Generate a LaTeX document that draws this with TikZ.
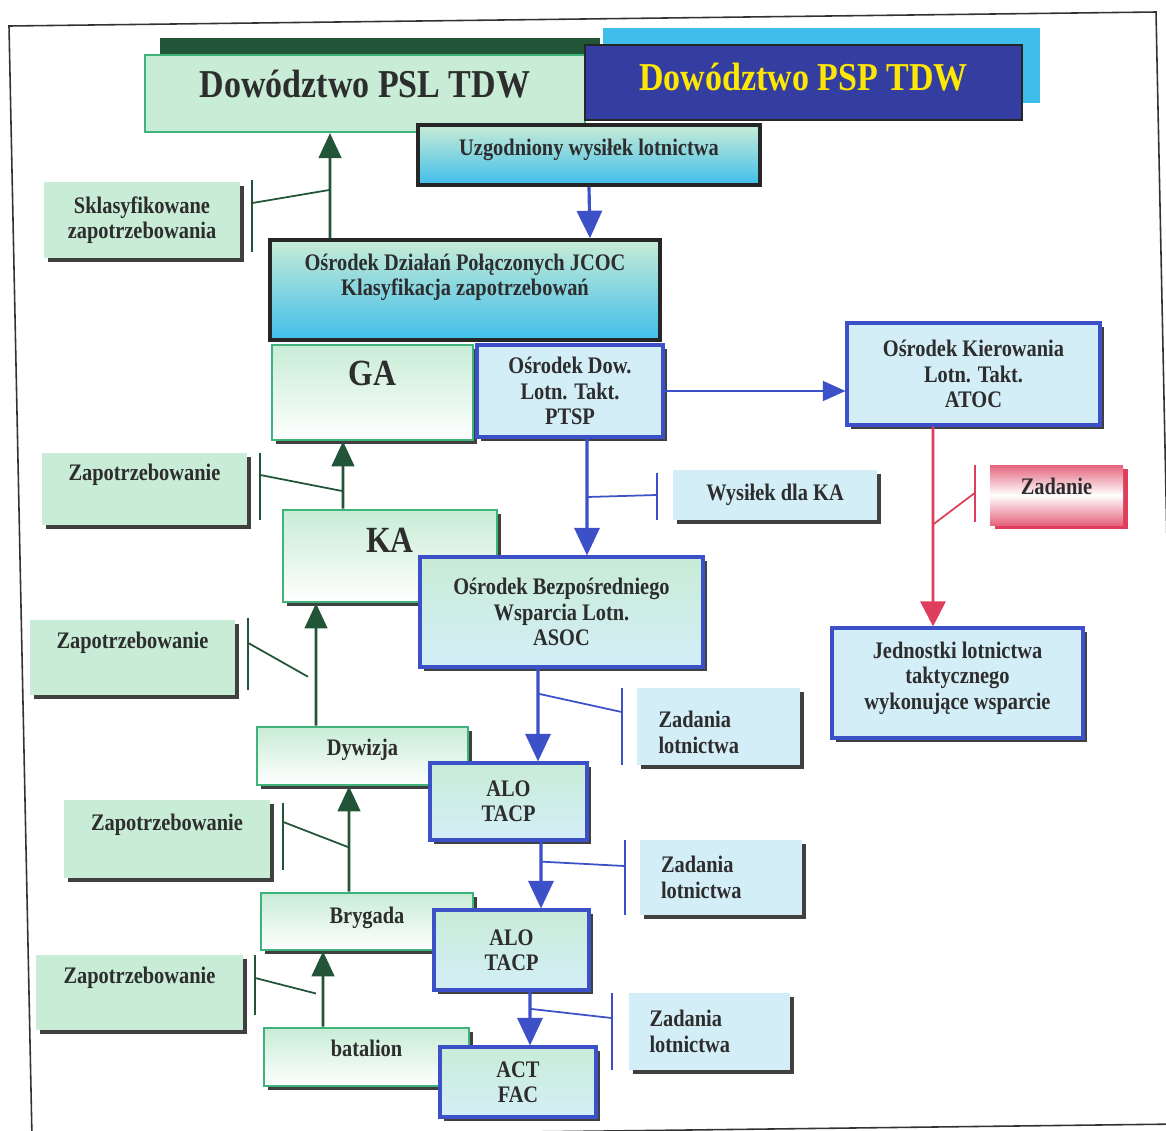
\documentclass[tikz,border=0pt]{standalone}
\usepackage{fontspec}
\setmainfont{Liberation Serif}[FakeStretch=0.86]
\usetikzlibrary{arrows.meta,shadows}

\definecolor{mint}{RGB}{200,236,214}
\definecolor{lgreen}{RGB}{62,180,122}
\definecolor{dkgreen}{RGB}{34,84,56}
\definecolor{lblue}{RGB}{60,80,200}
\definecolor{navy}{RGB}{52,62,160}
\definecolor{skyc}{RGB}{64,190,235}
\definecolor{lcyan}{RGB}{212,238,248}
\definecolor{ared}{RGB}{222,62,92}
\definecolor{ink}{RGB}{45,45,45}

\tikzset{
  txt/.style={font=\bfseries\fontsize{13.5}{14.5}\selectfont, text=ink, align=center},
  shad/.style={drop shadow={shadow xshift=2.5pt,shadow yshift=-2.5pt,fill=black!75,opacity=1}},
  greenbox/.style={txt, shad, draw=lgreen, line width=1.5pt, top color=mint, bottom color=white},
  bluebox/.style={txt, shad, draw=lblue, line width=1.8pt, fill=lcyan},
  alobox/.style={bluebox, top color=mint, bottom color=lcyan},
  blackbox/.style={txt, draw=black!85, line width=2pt, top color=mint, bottom color=skyc},
  note/.style={txt, shad, fill=mint},
  bluenote/.style={txt, shad, fill=lcyan},
  zadnote/.style={bluenote, text width=2.4cm, align=left},
  raised/.style={text depth=#1},
  bigtxt/.style={font=\bfseries\fontsize{21}{22}\selectfont},
  upline/.style={draw=dkgreen, line width=1.6pt, -{Triangle[length=0.5cm,width=0.45cm]}},
  downline/.style={draw=lblue, line width=1.8pt, -{Triangle[length=0.55cm,width=0.5cm]}},
  gbar/.style={draw=dkgreen, line width=1pt},
  bbar/.style={draw=lblue, line width=1pt},
}

\begin{document}
\begin{tikzpicture}[x=0.02cm,y=-0.02cm]
  \useasboundingbox (0,0) rectangle (1166,1130);
  % frame of the scanned page (slightly skewed)
  \begin{scope}
    \clip (0,0) rectangle (1166,1130);
    \draw[black!80,line width=0.9pt] (9,26) -- (1156,12) -- (1179,1124) -- (32,1138) -- cycle;
  \end{scope}

  % headquarters
  \node[txt, draw=lgreen, line width=1.2pt, fill=mint, minimum width=8.8cm, minimum height=1.54cm,
        font=\bfseries\fontsize{22.5}{24}\selectfont, raised=0.4cm,
        drop shadow={shadow xshift=0.3cm,shadow yshift=0.34cm,fill=dkgreen,opacity=1}] (psl) at (365,93.5) {Dowództwo PSL TDW};
  \node[txt, draw=black!85, line width=1.2pt, fill=navy, text=yellow!90!orange, minimum width=8.74cm, minimum height=1.5cm,
        font=\bfseries\fontsize{22.5}{24}\selectfont, raised=0.23cm,
        drop shadow={shadow xshift=0.36cm,shadow yshift=0.34cm,fill=skyc,opacity=1}] (psp) at (803.5,82.5) {Dowództwo PSP TDW};

  % requests (left)
  \node[note, minimum width=3.92cm, minimum height=1.52cm] (skl) at (142,220) {Sklasyfikowane\\zapotrzebowania};
  \node[note, minimum width=4.1cm, minimum height=1.44cm, raised=0.66cm] (zap1) at (144.5,489) {Zapotrzebowanie};
  \node[note, minimum width=4.1cm, minimum height=1.5cm, raised=0.68cm] (zap2) at (132.5,657.5) {Zapotrzebowanie};
  \node[note, minimum width=4.12cm, minimum height=1.56cm, raised=0.66cm] (zap3) at (167,839) {Zapotrzebowanie};
  \node[note, minimum width=4.14cm, minimum height=1.5cm, raised=0.68cm] (zap4) at (139.5,992.5) {Zapotrzebowanie};

  % land forces
  \node[greenbox, bigtxt, minimum width=4.02cm, minimum height=1.9cm, raised=0.76cm] (ga) at (372.5,392.5) {GA};
  \node[greenbox, bigtxt, minimum width=4.28cm, minimum height=1.84cm, raised=0.64cm] (ka) at (390,556) {KA};
  \node[greenbox, minimum width=4.22cm, minimum height=1.16cm, raised=0.34cm] (dyw) at (362.5,756) {Dywizja};
  \node[greenbox, minimum width=4.24cm, minimum height=1.14cm, raised=0.25cm] (bry) at (367,921.5) {Brygada};
  \node[greenbox, minimum width=4.1cm, minimum height=1.16cm, raised=0.36cm] (bat) at (366.5,1057) {batalion};

  % air force
  \node[blackbox, minimum width=6.84cm, minimum height=1.2cm, raised=0.3cm] (uzg) at (589,155) {Uzgodniony wysiłek lotnictwa};
  \node[blackbox, minimum width=7.8cm, minimum height=2cm, raised=0.62cm] (jcoc) at (465,290) {Ośrodek Działań Połączonych JCOC\\Klasyfikacja zapotrzebowań};
  \node[bluebox, minimum width=3.72cm, minimum height=1.84cm] (ptsp) at (570,391) {Ośrodek Dow.\\Lotn. Takt.\\PTSP};
  \node[bluebox, minimum width=5.06cm, minimum height=2.04cm] (atoc) at (973.5,374) {Ośrodek Kierowania\\Lotn. Takt.\\ATOC};
  \node[bluebox, minimum width=5.02cm, minimum height=2.2cm, raised=0.3cm] (jedn) at (957.5,683) {Jednostki lotnictwa\\taktycznego\\wykonujące wsparcie};
  \node[alobox, minimum width=5.66cm, minimum height=2.2cm] (asoc) at (561.5,612) {Ośrodek Bezpośredniego\\Wsparcia Lotn.\\ASOC};
  \node[alobox, minimum width=3.14cm, minimum height=1.54cm] (alo1) at (508.5,801.5) {ALO\\TACP};
  \node[alobox, minimum width=3.1cm, minimum height=1.6cm] (alo2) at (511.5,950) {ALO\\TACP};
  \node[alobox, minimum width=3.12cm, minimum height=1.4cm] (act) at (518,1082) {ACT\\FAC};

  % tasks (right)
  \node[bluenote, minimum width=4.08cm, minimum height=1cm] (wys) at (775,495) {Wysiłek dla KA};
  \node[zadnote, minimum width=3.26cm, minimum height=1.54cm, raised=0.28cm] (zad1) at (718.5,726.5) {Zadania\\lotnictwa};
  \node[zadnote, minimum width=3.24cm, minimum height=1.5cm] (zad2) at (721,877.5) {Zadania\\lotnictwa};
  \node[zadnote, minimum width=3.22cm, minimum height=1.54cm] (zad3) at (709.5,1031.5) {Zadania\\lotnictwa};
  \node[txt, minimum width=2.66cm, minimum height=1.2cm, top color=ared!80, bottom color=ared!80, middle color=white,
        drop shadow={shadow xshift=3pt,shadow yshift=-2pt,fill=ared,opacity=1}, raised=0.36cm] (zadanie) at (1056.5,495) {Zadanie};

  % requests going up
  \draw[upline] ([xshift=-2.7cm]jcoc.north) -- coordinate[pos=0.46] (m1) ([xshift=-0.7cm]psl.south);
  \draw[upline] ([xshift=-0.94cm]ka.north) -- coordinate[pos=0.26] (m2) ([xshift=-0.59cm]ga.south);
  \draw[upline] ([xshift=-0.93cm]dyw.north) -- coordinate[pos=0.4] (m3) ([xshift=-1.48cm]ka.south);
  \draw[upline] ([xshift=-0.36cm]bry.north) -- coordinate[pos=0.42] (m4) ([xshift=-0.27cm]dyw.south);
  \draw[upline] ([xshift=-0.87cm]bat.north) -- coordinate[pos=0.44] (m5) ([xshift=-0.88cm]bry.south);

  % tasks going down
  \draw[downline] (uzg.south) -- ([xshift=2.5cm]jcoc.north);
  \draw[downline] ([xshift=0.34cm]ptsp.south) -- coordinate[pos=0.5] (n1) ([xshift=0.51cm]asoc.north);
  \draw[downline] ([xshift=-0.47cm]asoc.south) -- coordinate[pos=0.27] (n2) ([xshift=0.59cm]alo1.north);
  \draw[downline] ([xshift=0.65cm]alo1.south) -- coordinate[pos=0.3] (n3) ([xshift=0.59cm]alo2.north);
  \draw[downline] ([xshift=0.37cm]alo2.south) -- coordinate[pos=0.32] (n4) ([xshift=0.24cm]act.north);
  \draw[draw=lblue, line width=0.8pt, -{Triangle[length=0.45cm,width=0.4cm]}] (ptsp.east) -- (ptsp.east -| atoc.west);
  \draw[draw=ared, line width=1.6pt, -{Triangle[length=0.5cm,width=0.5cm]}] ([xshift=-0.81cm]atoc.south) -- coordinate[pos=0.49] (r1) ([xshift=-0.49cm]jedn.north);

  % callouts
  \draw[gbar] ([xshift=0.24cm,yshift=0.04cm]skl.north east) -- ([xshift=0.24cm,yshift=0.12cm]skl.south east);
  \draw[gbar] (m1) -- ([xshift=0.24cm,yshift=0.34cm]skl.east);
  \draw[gbar] ([xshift=0.26cm]zap1.north east) -- ([xshift=0.26cm,yshift=0.1cm]zap1.south east);
  \draw[gbar] (m2) -- ([xshift=0.26cm,yshift=0.28cm]zap1.east);
  \draw[gbar] ([xshift=0.26cm,yshift=0.04cm]zap2.north east) -- ([xshift=0.26cm,yshift=0.1cm]zap2.south east);
  \draw[gbar] ([xshift=-0.16cm]m3) -- ([xshift=0.26cm,yshift=0.29cm]zap2.east);
  \draw[gbar] ([xshift=0.26cm,yshift=-0.06cm]zap3.north east) -- ([xshift=0.26cm,yshift=0.16cm]zap3.south east);
  \draw[gbar] (m4) -- ([xshift=0.26cm,yshift=0.34cm]zap3.east);
  \draw[gbar] ([xshift=0.24cm]zap4.north east) -- ([xshift=0.24cm,yshift=0.3cm]zap4.south east);
  \draw[gbar] ([xshift=-0.14cm]m5) -- ([xshift=0.24cm,yshift=0.29cm]zap4.east);

  \draw[bbar] ([xshift=-0.32cm,yshift=-0.06cm]wys.north west) -- ([xshift=-0.32cm]wys.south west);
  \draw[bbar] (n1) -- ([xshift=-0.32cm]wys.west);
  \draw[bbar] ([xshift=-0.3cm]zad1.north west) -- ([xshift=-0.3cm]zad1.south west);
  \draw[bbar] (n2) -- ([xshift=-0.3cm,yshift=0.29cm]zad1.west);
  \draw[bbar] ([xshift=-0.3cm]zad2.north west) -- ([xshift=-0.3cm]zad2.south west);
  \draw[bbar] (n3) -- ([xshift=-0.3cm,yshift=0.23cm]zad2.west);
  \draw[bbar] ([xshift=-0.34cm]zad3.north west) -- ([xshift=-0.34cm]zad3.south west);
  \draw[bbar] (n4) -- ([xshift=-0.34cm,yshift=0.27cm]zad3.west);
  \draw[draw=ared, line width=1pt] ([xshift=-0.3cm]zadanie.north west) -- ([xshift=-0.3cm,yshift=0.06cm]zadanie.south west);
  \draw[draw=ared, line width=1pt] (r1) -- ([xshift=-0.3cm,yshift=0.04cm]zadanie.west);
\end{tikzpicture}
\end{document}
